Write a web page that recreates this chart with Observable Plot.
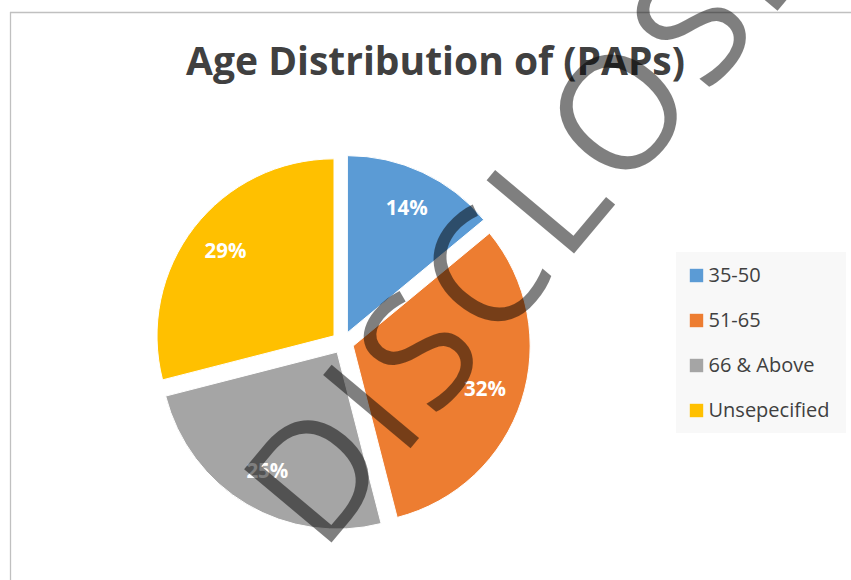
<!DOCTYPE html>
<html><head><meta charset="utf-8">
<script src="https://cdn.jsdelivr.net/npm/d3@7"></script>
<script src="https://cdn.jsdelivr.net/npm/@observablehq/plot@0.6"></script>
<style>
html,body{margin:0;padding:0;background:#fff;}
#chart{width:851px;height:580px;overflow:hidden;}
</style>
</head><body><div id="chart"></div>
<script>
// ---- data ----
const categories = ["35-50", "51-65", "66 & Above", "Unsepecified"];
const values = [14, 32, 25, 29];
const labels = ["14%", "32%", "25%", "29%"];
const colors = ["#5B9BD5", "#ED7D31", "#A5A5A5", "#FFC000"];
const title = "Age Distribution of (PAPs)";
const watermark = "DISCLOSED";

// ---- layout ----
const W = 851, H = 580;
const cx = 342.7, cy = 342.6, R = 177, explode = 11, labelR = 149;
const legend = {x1: 676, x2: 846, y1: 252, y2: 433, sqX: 696, textX: 708, row0: 275, step: 45};

const data = categories.map((c, i) => ({category: c, value: values[i], label: labels[i]}));
const arcs = d3.pie().sort(null).value(d => d.value)(data);
const mid = a => (a.startAngle + a.endAngle) / 2;
const labelData = arcs.map(a => ({...a.data, x: cx + labelR * Math.sin(mid(a)), y: cy - labelR * Math.cos(mid(a))}));
const legendData = data.map((d, i) => ({...d, y: legend.row0 + i * legend.step}));

function pieMark(index, scales) {
  const sx = scales && scales.x ? scales.x : (v => v);
  const sy = scales && scales.y ? scales.y : (v => v);
  const col = scales && scales.color ? scales.color : (c => colors[categories.indexOf(c)]);
  const r = sx(cx + R) - sx(cx);
  const off = sx(cx + explode) - sx(cx);
  const g = d3.create("svg:g");
  const arcGen = d3.arc().innerRadius(0).outerRadius(r);
  for (const a of arcs) {
    const m = mid(a);
    g.append("path")
      .attr("d", arcGen(a))
      .attr("transform", `translate(${sx(cx) + off * Math.sin(m)},${sy(cy) - off * Math.cos(m)})`)
      .attr("fill", col(a.data.category))
      .attr("stroke", "white")
      .attr("stroke-width", 1);
  }
  return g.node();
}

const chart = Plot.plot({
  width: W, height: H, margin: 0,
  style: {fontFamily: "'Open Sans', sans-serif", background: "white", overflow: "hidden"},
  x: {domain: [0, W], range: [0, W], axis: null},
  y: {domain: [0, H], range: [0, H], axis: null},
  color: {domain: categories, range: colors},
  marks: [
    Plot.ruleY([12], {x1: 10, x2: W, stroke: "#c0c0c0", strokeWidth: 1.3}),
    Plot.ruleX([10], {y1: 12, y2: H, stroke: "#c0c0c0", strokeWidth: 1.3}),
    Plot.text([title], {x: 435, y: 74, text: d => d, fontSize: 39, fontWeight: "bold", fill: "#404040", lineAnchor: "bottom"}),
    pieMark,
    Plot.text(labelData, {x: "x", y: "y", text: "label", fill: "white", fontWeight: "bold", fontSize: 20.5}),
    Plot.rect([legend], {x1: "x1", x2: "x2", y1: "y1", y2: "y2", fill: "#f8f8f8"}),
    Plot.dot(legendData, {x: legend.sqX, y: "y", symbol: "square", r: 7.56, fill: "category", stroke: null}),
    Plot.text(legendData, {x: legend.textX, y: "y", text: "category", textAnchor: "start", fontSize: 20, fill: "#404040"}),
    Plot.text([watermark], {x: 321, y: 554, text: d => d, rotate: -50, textAnchor: "start", lineAnchor: "bottom", fontSize: 160, fill: "black", fillOpacity: 0.5})
  ]
});
d3.select(chart).selectAll("text").filter(function() { return this.textContent === watermark; })
  .attr("letter-spacing", 7);
document.getElementById("chart").appendChild(chart);
</script>
</body></html>
